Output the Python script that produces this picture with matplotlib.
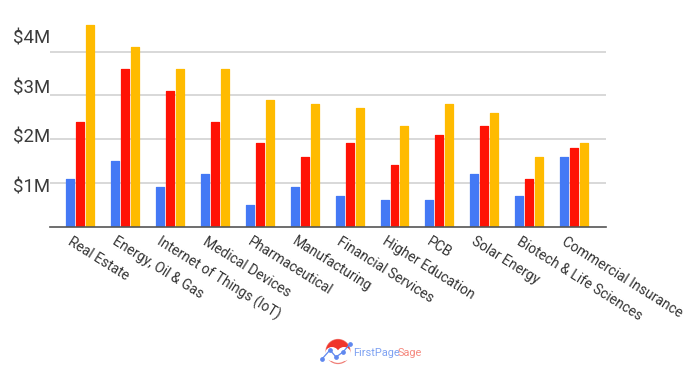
import matplotlib
matplotlib.use("Agg")
import matplotlib.pyplot as plt
from matplotlib.patches import Circle, Wedge
from matplotlib.transforms import ScaledTranslation

plt.rcParams['font.family'] = ['Roboto', 'DejaVu Sans']

categories = ["Real Estate", "Energy, Oil & Gas", "Internet of Things (IoT)", "Medical Devices",
              "Pharmaceutical", "Manufacturing", "Financial Services", "Higher Education",
              "PCB", "Solar Energy", "Biotech & Life Sciences", "Commercial Insurance"]
blue = [1.1, 1.5, 0.9, 1.2, 0.5, 0.9, 0.7, 0.6, 0.6, 1.2, 0.7, 1.6]
red = [2.4, 3.6, 3.1, 2.4, 1.9, 1.6, 1.9, 1.4, 2.1, 2.3, 1.1, 1.8]
yellow = [4.6, 4.1, 3.6, 3.6, 2.9, 2.8, 2.7, 2.3, 2.8, 2.6, 1.6, 1.9]
grid_values = [1, 2, 3, 4]
y_labels = ["$1M", "$2M", "$3M", "$4M"]
y_label_positions = [0.90, 2.04, 3.16, 4.30]

W, H = 696, 374
fig = plt.figure(figsize=(W / 100, H / 100), dpi=100)
L, R, T, B = 50, 605.6, 0, 226.7
ax = fig.add_axes([L / W, 1 - B / H, (R - L) / W, (B - T) / H])
ppm = 43.8
ax.set_ylim(0, (B - T) / ppm)
ax.set_xlim(-0.67, 11.70)

w = 0.178
step = 0.222
for off, vals, col in [(-step, blue, '#4479f5'), (0, red, '#ff1205'), (step, yellow, '#ffbb00')]:
    ax.bar([i + off for i in range(len(vals))], vals, width=w, color=col, edgecolor=col,
           linewidth=0.9, joinstyle='round', zorder=3)

ax.set_yticks(grid_values)
ax.set_yticklabels([])
ax.tick_params(left=False, bottom=False, labelleft=False)
ax.grid(axis='y', color='#d2d2d2', linewidth=1.2, zorder=1)
for s in ['top', 'right', 'left']:
    ax.spines[s].set_visible(False)
ax.spines['bottom'].set_color('#555555')
ax.spines['bottom'].set_linewidth(1.2)
ax.spines['bottom'].set_zorder(4)

for v, lab in zip(y_label_positions, y_labels):
    ax.text(-0.67, v, lab, ha='right', va='center', fontsize=13.4,
            color='#3c3c3c', clip_on=False)

ax.set_xticks(range(len(categories)))
ax.set_xticklabels(categories, rotation=-32, ha='left', va='top', rotation_mode='anchor',
                   fontsize=10, color='#333333')
ax.tick_params(axis='x', pad=2)
shift = ScaledTranslation(-7.5 / 100, 0, fig.dpi_scale_trans)
for t in ax.get_xticklabels():
    t.set_transform(t.get_transform() + shift)

# logo, drawn in pixel coordinates
lg = fig.add_axes([0, 0, 1, 1], zorder=5)
lg.set_xlim(0, W)
lg.set_ylim(H, 0)
lg.axis('off')
lg.patch.set_alpha(0)
lg.add_patch(Circle((338, 351.5), 12, fill=False, ec='#f08078', lw=0.9))
lg.add_patch(Wedge((338, 351.5), 12, 180, 360, color='#f0352b', lw=0))
lg.add_patch(Circle((332, 354), 7, color='white', lw=0))
lg.add_patch(Circle((344, 354), 7, color='white', lw=0))
lg.plot([322, 330, 336, 343, 350], [359, 350, 357, 352, 344], color='#5f88ef', lw=0.9,
        marker='o', ms=2.4)
lg.text(353, 353, "FirstPage", color='#7ea2f2', fontsize=7.9, va='center', ha='left')
lg.text(398, 353, "Sage", color='#f58a80', fontsize=7.9, va='center', ha='left')

fig.savefig("out.png", dpi=100)
